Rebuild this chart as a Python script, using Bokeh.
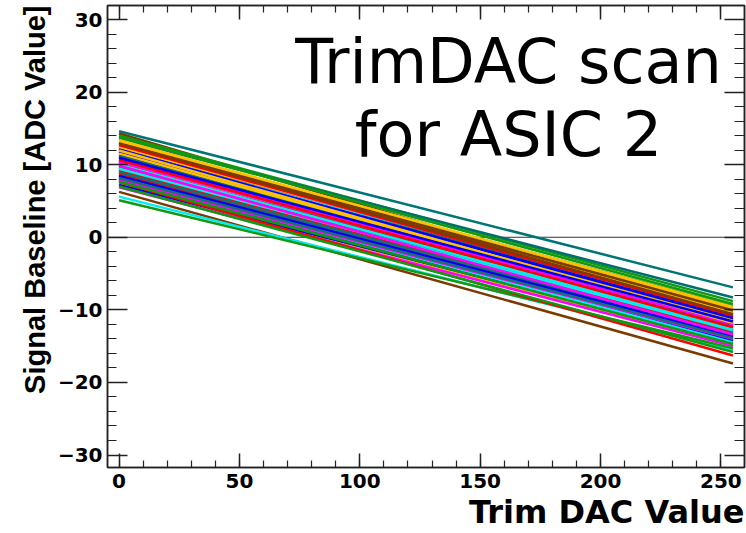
from bokeh.plotting import figure
from bokeh.models import (Range1d, LinearAxis, SingleIntervalTicker, Span, Label, Title,
                          ColumnDataSource, CustomJSTickFormatter)
from bokeh.embed import file_html
from bokeh.resources import INLINE

# ---- data ----
trim_dac = [0, 255]   # scan range of the trim DAC
# baseline at trim DAC = 0 and at trim DAC = 255, one entry per channel
baseline_start = [14.6, 14.3, 14.0, 13.6, 13.4, 13.2, 13.0, 12.8, 12.6, 12.5,
                  12.3, 12.2, 12.0, 11.9, 11.7, 11.6, 11.4, 11.3, 11.1, 11.0,
                  10.9, 10.7, 10.6, 10.5, 10.3, 10.2, 10.1, 9.9, 9.8, 9.7,
                  9.5, 9.4, 9.3, 9.1, 9.0, 8.9, 8.8, 8.6, 8.5, 8.4,
                  8.3, 8.1, 8.0, 7.9, 7.8, 7.7, 7.5, 7.4, 7.3, 7.2,
                  6.9, 6.25, 5.6, 5.1, 7.6, 7.0, 12.9, 11.8, 10.4, 9.6,
                  8.7, 8.2, 12.4, 13.8,
                  13.1, 12.7, 12.1, 11.5, 11.2, 10.8, 10.0, 9.2, 8.95, 8.45,
                  7.95, 7.65, 12.95, 11.95, 10.65, 9.45, 8.15, 13.3, 10.95, 9.85]
baseline_end = [-6.9, -10.6, -8.8, -8.3, -9.8, -10.2, -9.5, -10.4, -10.9, -11.2,
                -10.0, -11.6, -10.7, -11.9, -10.5, -12.1, -11.4, -12.4, -10.9, -12.0,
                -11.7, -12.6, -11.1, -12.3, -12.8, -11.5, -13.0, -12.2, -12.9, -11.8,
                -13.3, -12.5, -13.1, -12.7, -13.5, -12.0, -13.7, -13.2, -12.9, -14.0,
                -13.4, -14.2, -13.6, -13.9, -14.4, -13.8, -14.6, -14.1, -14.8, -14.3,
                -15.0, -17.4, -15.6, -15.3, -16.3, -15.8, -9.9, -11.0, -12.1, -13.8,
                -12.4, -14.5, -10.3, -9.2,
                -10.1, -10.8, -11.3, -11.5, -12.2, -12.0, -12.6, -13.0, -13.3, -13.6,
                -14.0, -14.7, -10.6, -11.8, -12.4, -12.8, -13.9, -9.6, -11.6, -13.4]
channel_colors = ["#007575", "#7a3a00", "#119911", "#006e6e", "#ffc000", "#00eeee",
                  "#119911", "#ffc000", "#ff0000", "#ff00ff", "#7a3a00", "#0000ff",
                  "#00eeee", "#ff0000", "#1a6e6e", "#ff00ff", "#ffc000", "#0000ff",
                  "#119911", "#ff0000", "#00eeee", "#ff00ff", "#7a3a00", "#1a6e6e",
                  "#0000ff", "#ffc000", "#ff0000", "#119911", "#00eeee", "#7a3a00",
                  "#ff00ff", "#1a6e6e", "#0000ff", "#ff0000", "#ffc000", "#1a6e6e",
                  "#00eeee", "#119911", "#1a6e6e", "#ff0000", "#ff00ff", "#0000ff",
                  "#1a6e6e", "#119911", "#ff0000", "#1a6e6e", "#00eeee", "#1a6e6e",
                  "#ffc000", "#0000ff", "#ff00ff", "#7a3a00", "#00eeee", "#119911",
                  "#ff0000", "#119911", "#ffc000", "#0000ff", "#ff00ff", "#1a6e6e",
                  "#ff0000", "#00eeee", "#ffc000", "#119911",
                  "#7a3a00", "#ff0000", "#0000ff", "#ffc000", "#1a6e6e", "#ff00ff",
                  "#00eeee", "#ff0000", "#1a6e6e", "#0000ff", "#ff00ff", "#119911",
                  "#7a3a00", "#ffc000", "#ff0000", "#00eeee", "#1a6e6e", "#ffc000",
                  "#0000ff", "#ff00ff"]

x_ticks_major = 50
y_ticks_major = 10
x_lo, x_hi = -4.8, 259.8
y_lo, y_hi = -31.72, 31.93

title_lines = ["TrimDAC scan", "for ASIC 2"]
x_title = "Trim DAC Value"
y_title = "Signal Baseline [ADC Value]"

# ---- figure ----
p = figure(width=746, height=533, output_backend="svg", toolbar_location=None,
           x_range=Range1d(x_lo, x_hi), y_range=Range1d(y_lo, y_hi),
           x_axis_location=None, y_axis_location=None,
           min_border_left=107, min_border_right=2, min_border_top=5,
           min_border_bottom=66)
p.grid.visible = False
p.outline_line_color = "#222222"
p.outline_line_width = 1.5
p.background_fill_color = "white"
p.border_fill_color = "white"

minus_fmt = CustomJSTickFormatter(
    code="return tick < 0 ? '\u2212' + Math.abs(tick) : String(tick);")


def make_axis(interval, tick_in, minor_in, labels):
    ax = LinearAxis(ticker=SingleIntervalTicker(interval=interval, num_minor_ticks=5),
                    formatter=minus_fmt)
    ax.major_tick_in = tick_in
    ax.major_tick_out = 0
    ax.minor_tick_in = minor_in
    ax.minor_tick_out = 0
    ax.axis_line_color = "#222222"
    ax.axis_line_width = 1.5
    ax.major_tick_line_color = "#222222"
    ax.major_tick_line_width = 1.5
    ax.minor_tick_line_color = "#222222"
    ax.minor_tick_line_width = 1.2
    if labels:
        ax.major_label_text_font = "DejaVu Sans"
        ax.major_label_text_font_style = "bold"
        ax.major_label_text_font_size = "20px"
        ax.major_label_text_color = "black"
    else:
        ax.major_label_text_font_size = "0px"
        ax.major_label_text_color = None
        ax.major_label_standoff = 0
    return ax


bottom = make_axis(x_ticks_major, 14, 7, True)
bottom.major_label_standoff = 6
left = make_axis(y_ticks_major, 20, 9, True)
left.major_label_standoff = 5
top = make_axis(x_ticks_major, 14, 7, False)
right = make_axis(y_ticks_major, 20, 10, False)
p.add_layout(bottom, "below")
p.add_layout(left, "left")
p.add_layout(top, "above")
p.add_layout(right, "right")

# axis titles, right / top aligned as in the reference
p.add_layout(Title(text=x_title, align="right", text_font="DejaVu Sans",
                   text_font_style="bold", text_font_size="32px",
                   text_color="black", standoff=0), "below")
p.add_layout(Title(text=y_title, align="right", text_font="Liberation Sans",
                   text_font_style="bold", text_font_size="29px",
                   text_color="black", standoff=8), "left")

# zero line
p.add_layout(Span(location=0, dimension="width", line_color="#333333",
                  line_width=1, level="underlay"))

# channel lines
src = ColumnDataSource(dict(
    xs=[list(trim_dac) for _ in baseline_start],
    ys=[[s, e] for s, e in zip(baseline_start, baseline_end)],
    color=channel_colors[:len(baseline_start)],
))
p.multi_line(xs="xs", ys="ys", line_color="color", line_width=2.5, source=src)

# big title text
for txt, yo in zip(title_lines, [-56, -129]):
    p.add_layout(Label(x=x_lo, y=y_hi, x_offset=401, y_offset=yo, text=txt,
                       text_font="DejaVu Sans", text_font_size="62px",
                       text_align="center", text_baseline="alphabetic",
                       text_color="black"))

open("out.html", "w").write(file_html(p, INLINE))
